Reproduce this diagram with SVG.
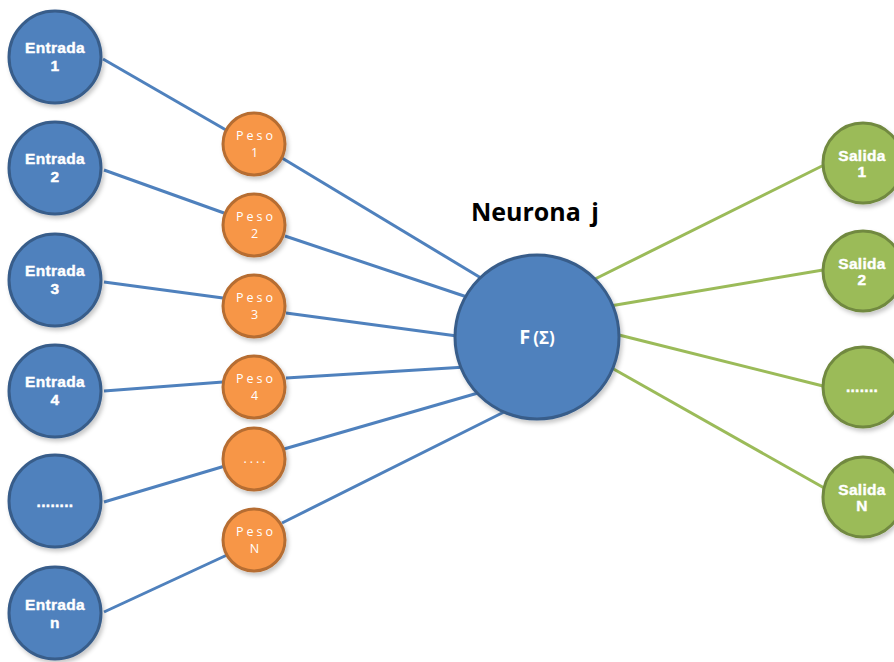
<svg xmlns="http://www.w3.org/2000/svg" width="894" height="662" viewBox="0 0 894 662">
<defs>
<filter id="sh" x="-20%" y="-20%" width="150%" height="150%">
<feDropShadow dx="2" dy="3" stdDeviation="2" flood-color="#000" flood-opacity="0.22"/>
</filter>
<style>
.in{fill:#4f81bd;stroke:#385d8a;stroke-width:3;filter:url(#sh)}
.w{fill:#f79646;stroke:#b66d31;stroke-width:3;filter:url(#sh)}
.out{fill:#9bbb59;stroke:#71893f;stroke-width:3;filter:url(#sh)}
.lb{stroke:#4f81bd;stroke-width:3;fill:none}
.lg{stroke:#9bbb59;stroke-width:3;fill:none}
.t{font-family:"Liberation Sans",Arial,sans-serif;font-weight:bold;font-size:15.5px;fill:#fff;stroke:#fff;stroke-width:0.4;text-anchor:middle;letter-spacing:0.3px}
.p{font-family:"Open Sans","Liberation Sans",sans-serif;font-size:12.5px;fill:#fff;text-anchor:middle;letter-spacing:3px}
.h{font-family:"Open Sans","Liberation Sans",sans-serif;font-weight:bold;fill:#000;text-anchor:middle}
</style>
</defs>
<g id="connectors">
<line class="lb" x1="103" y1="59" x2="226" y2="130"/>
<line class="lb" x1="282" y1="158" x2="481" y2="278"/>
<line class="lb" x1="104" y1="170" x2="224" y2="213"/>
<line class="lb" x1="285" y1="236" x2="467" y2="297"/>
<line class="lb" x1="104" y1="282" x2="223" y2="298"/>
<line class="lb" x1="286" y1="313" x2="457" y2="336"/>
<line class="lb" x1="104" y1="391" x2="223" y2="382"/>
<line class="lb" x1="286" y1="378" x2="466" y2="367"/>
<line class="lb" x1="104" y1="502" x2="225" y2="466"/>
<line class="lb" x1="284" y1="449" x2="478" y2="393"/>
<line class="lb" x1="104" y1="612" x2="227" y2="555"/>
<line class="lb" x1="282" y1="523" x2="508" y2="410"/>
<line class="lg" x1="595" y1="279" x2="824" y2="165"/>
<line class="lg" x1="610" y1="306" x2="823" y2="270"/>
<line class="lg" x1="619" y1="335" x2="823" y2="386"/>
<line class="lg" x1="610" y1="367" x2="826" y2="489"/>
</g>
<g id="entrada1"><circle class="in" cx="55" cy="57" r="46"/><text class="t" x="55" y="53">Entrada</text><text class="t" x="55" y="71">1</text></g>
<g id="entrada2"><circle class="in" cx="55" cy="168" r="46"/><text class="t" x="55" y="164">Entrada</text><text class="t" x="55" y="182">2</text></g>
<g id="entrada3"><circle class="in" cx="55" cy="280" r="46"/><text class="t" x="55" y="276">Entrada</text><text class="t" x="55" y="294">3</text></g>
<g id="entrada4"><circle class="in" cx="55" cy="391" r="46"/><text class="t" x="55" y="387">Entrada</text><text class="t" x="55" y="405">4</text></g>
<g id="entrada_dots"><circle class="in" cx="55" cy="501" r="46"/><text class="t" x="55" y="507">........</text></g>
<g id="entradan"><circle class="in" cx="55" cy="613" r="46"/><text class="t" x="55" y="610">Entrada</text><text class="t" x="55" y="628">n</text></g>
<g id="peso1"><circle class="w" cx="254" cy="144" r="31"/><text class="p" x="256" y="140">Peso</text><text class="p" x="256" y="157">1</text></g>
<g id="peso2"><circle class="w" cx="254" cy="225" r="31"/><text class="p" x="256" y="221">Peso</text><text class="p" x="256" y="238">2</text></g>
<g id="peso3"><circle class="w" cx="254" cy="306" r="31"/><text class="p" x="256" y="302">Peso</text><text class="p" x="256" y="319">3</text></g>
<g id="peso4"><circle class="w" cx="254" cy="387" r="31"/><text class="p" x="256" y="383">Peso</text><text class="p" x="256" y="400">4</text></g>
<g id="peso_dots"><circle class="w" cx="254" cy="459" r="31"/><text class="p" x="256" y="463">....</text></g>
<g id="pesoN"><circle class="w" cx="254" cy="540" r="31"/><text class="p" x="256" y="536">Peso</text><text class="p" x="256" y="553">N</text></g>
<g id="neurona">
<text class="h" x="535" y="221" font-size="25" word-spacing="4">Neurona j</text>
<circle class="in" cx="537" cy="337" r="82"/>
<text class="h" x="537" y="344" font-size="20" style="fill:#fff">F<tspan font-size="17" dx="3">(Σ)</tspan></text>
</g>
<g id="salida1"><circle class="out" cx="863" cy="163" r="40"/><text class="t" x="862" y="161">Salida</text><text class="t" x="862" y="177">1</text></g>
<g id="salida2"><circle class="out" cx="863" cy="271" r="40"/><text class="t" x="862" y="269">Salida</text><text class="t" x="862" y="285">2</text></g>
<g id="salida_dots"><circle class="out" cx="863" cy="387" r="40"/><text class="t" x="862" y="392">.......</text></g>
<g id="salidaN"><circle class="out" cx="863" cy="497" r="40"/><text class="t" x="862" y="495">Salida</text><text class="t" x="862" y="511">N</text></g>
</svg>
